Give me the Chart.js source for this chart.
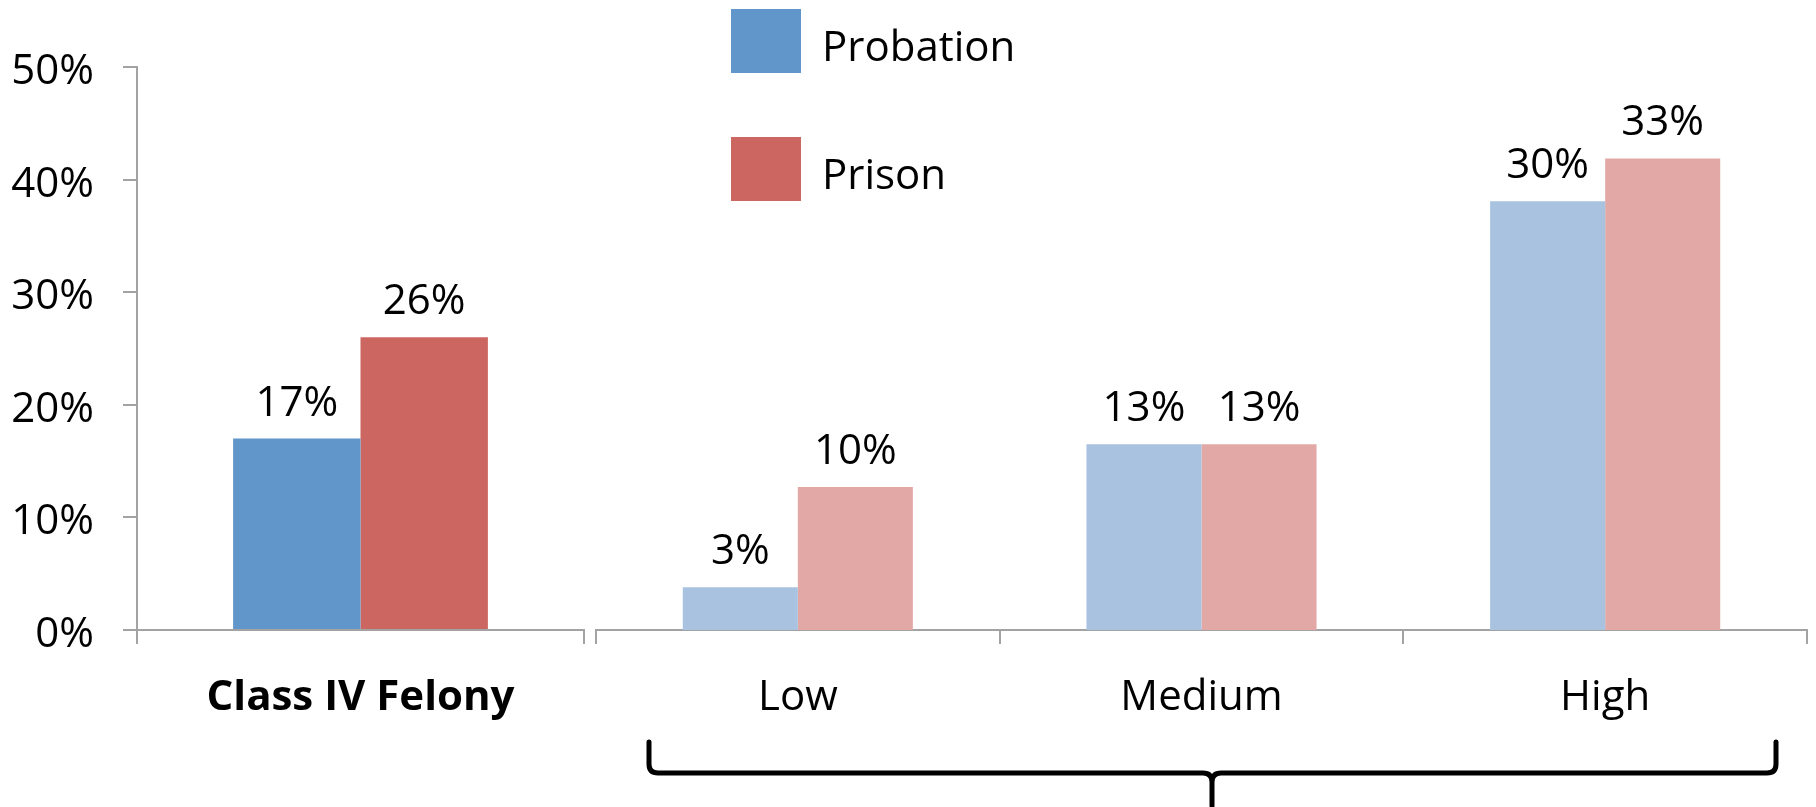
<!DOCTYPE html>
<html>
<head>
<meta charset="utf-8">
<script src="https://cdn.jsdelivr.net/npm/chart.js@4.4.1/dist/chart.umd.min.js"></script>
<style>
  html, body { margin: 0; padding: 0; background: #ffffff; }
  #wrap { position: relative; width: 1816px; height: 807px; overflow: hidden; }
  #wrap canvas { position: absolute; left: 0; top: 0; }
  #legend { position: absolute; left: 731px; top: 9px; font-family: "Open Sans", sans-serif; font-size: 42px; color: #000; }
  .item { position: absolute; left: 0; white-space: nowrap; }
  .swatch { position: absolute; left: 0; top: 0; width: 70px; height: 64px; }
  .name { position: absolute; left: 91px; top: 36px; transform: translateY(-50%); line-height: 1; }
</style>
</head>
<body>
<div id="wrap">
  <canvas id="offense" width="1816" height="807"></canvas>
  <canvas id="risk" width="1816" height="807"></canvas>
  <div id="legend"></div>
</div>
<script>
// Share of each group with a new offense, by sentence type
const offenseCategories = ['Class IV Felony'];
const riskCategories = ['Low', 'Medium', 'High'];
const seriesNames = ['Probation', 'Prison'];

const probationOffense = [17];
const prisonOffense = [26];
const probationRisk = [3, 13, 30];
const prisonRisk = [10, 13, 33];

const percentTicks = [0, 10, 20, 30, 40, 50];

const solidColors = ['#6096c9', '#cc6660'];
const paleColors = ['#a8c2e0', '#e2a8a6'];

const FONT = '"Open Sans", sans-serif';
const FONT_SIZE = 42;
const AXIS_GREY = '#a3a3a3';

Chart.defaults.font.family = FONT;
Chart.defaults.color = '#000000';

// Percent labels above each bar
const valueLabels = {
  id: 'valueLabels',
  afterDatasetsDraw(chart) {
    const ctx = chart.ctx;
    ctx.save();
    ctx.font = FONT_SIZE + 'px ' + FONT;
    ctx.fillStyle = '#000';
    ctx.textAlign = 'center';
    ctx.textBaseline = 'alphabetic';
    chart.data.datasets.forEach((ds, i) => {
      chart.getDatasetMeta(i).data.forEach((bar, j) => {
        ctx.fillText(ds.data[j] + '%', bar.x, bar.y - 23);
      });
    });
    ctx.restore();
  }
};

// Curly brace grouping the risk levels
const riskBrace = {
  id: 'riskBrace',
  afterDraw(chart) {
    const ctx = chart.ctx;
    const L = 649, R = 1776, M = 1212, top = 742, mid = 773, r = 9;
    ctx.save();
    ctx.strokeStyle = '#000';
    ctx.lineWidth = 5;
    ctx.lineCap = 'round';
    ctx.lineJoin = 'round';
    ctx.beginPath();
    ctx.moveTo(L, top);
    ctx.lineTo(L, mid - r);
    ctx.quadraticCurveTo(L, mid, L + r, mid);
    ctx.lineTo(M - r, mid);
    ctx.quadraticCurveTo(M, mid, M, mid + r);
    ctx.lineTo(M, 806);
    ctx.moveTo(M, mid + r);
    ctx.quadraticCurveTo(M, mid, M + r, mid);
    ctx.lineTo(R - r, mid);
    ctx.quadraticCurveTo(R, mid, R, mid - r);
    ctx.lineTo(R, top);
    ctx.stroke();
    ctx.restore();
  }
};

function xAxis(bold) {
  return {
    type: 'category',
    offset: true,
    border: { display: true, color: AXIS_GREY, width: 2 },
    grid: { display: true, offset: true, drawOnChartArea: false, drawTicks: true, tickLength: 14, color: AXIS_GREY, lineWidth: 2 },
    ticks: { padding: 29, font: { size: FONT_SIZE, weight: bold ? 'bold' : 'normal' }, color: '#000' },
    afterFit(scale) { scale.height = 110; }
  };
}

new Chart(document.getElementById('offense'), {
  type: 'bar',
  data: {
    labels: offenseCategories,
    datasets: [
      { label: seriesNames[0], data: probationOffense, backgroundColor: solidColors[0] },
      { label: seriesNames[1], data: prisonOffense, backgroundColor: solidColors[1] }
    ]
  },
  options: {
    responsive: false,
    animation: false,
    layout: { padding: { left: 0, top: 67, right: 1816 - 584, bottom: 807 - 630 - 110 } },
    datasets: { bar: { categoryPercentage: 0.57, barPercentage: 1, borderWidth: 0 } },
    plugins: { legend: { display: false }, tooltip: { enabled: false } },
    scales: {
      x: xAxis(true),
      y: {
        min: 0, max: 50,
        afterBuildTicks(scale) { scale.ticks = percentTicks.map(v => ({ value: v })); },
        border: { display: true, color: AXIS_GREY, width: 2 },
        grid: { display: true, drawOnChartArea: false, drawTicks: true, tickLength: 14, color: AXIS_GREY, lineWidth: 2 },
        ticks: { padding: 29, labelOffset: 5, font: { size: FONT_SIZE }, color: '#000', callback: v => v + '%' },
        afterFit(scale) { scale.width = 137; }
      }
    }
  },
  plugins: [valueLabels]
});

new Chart(document.getElementById('risk'), {
  type: 'bar',
  data: {
    labels: riskCategories,
    datasets: [
      { label: seriesNames[0], data: probationRisk, backgroundColor: paleColors[0] },
      { label: seriesNames[1], data: prisonRisk, backgroundColor: paleColors[1] }
    ]
  },
  options: {
    responsive: false,
    animation: false,
    layout: { padding: { left: 596, top: 67, right: 1816 - 1807, bottom: 807 - 630 - 110 } },
    datasets: { bar: { categoryPercentage: 0.57, barPercentage: 1, borderWidth: 0 } },
    plugins: { legend: { display: false }, tooltip: { enabled: false } },
    scales: {
      x: xAxis(false),
      y: { display: false, min: 0, max: 39.4 }
    }
  },
  plugins: [valueLabels, riskBrace]
});

// Legend: one swatch per series
const legend = document.getElementById('legend');
seriesNames.forEach((name, i) => {
  const item = document.createElement('div');
  item.className = 'item';
  item.style.top = (i * 128) + 'px';
  const sw = document.createElement('div');
  sw.className = 'swatch';
  sw.style.background = solidColors[i];
  const tx = document.createElement('div');
  tx.className = 'name';
  tx.textContent = name;
  item.appendChild(sw);
  item.appendChild(tx);
  legend.appendChild(item);
});
</script>
</body>
</html>
